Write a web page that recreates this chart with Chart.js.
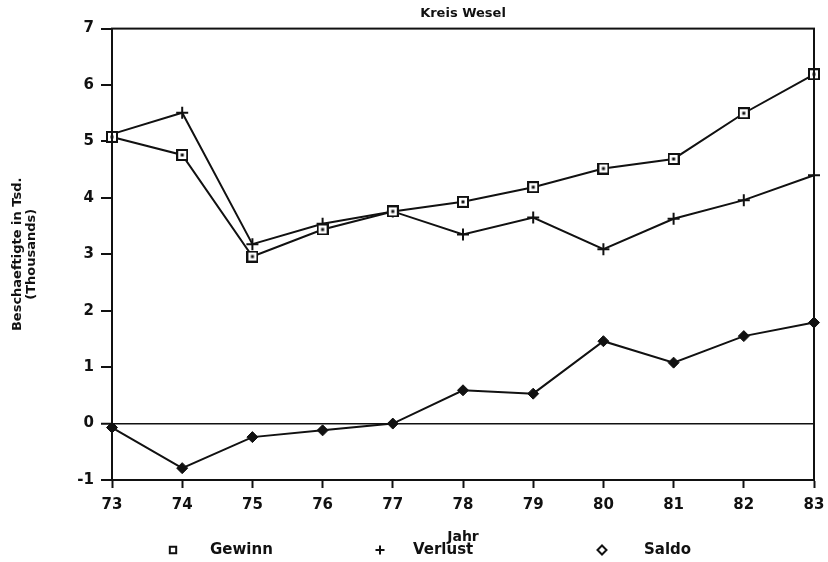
<!DOCTYPE html>
<html>
<head>
<meta charset="utf-8">
<script src="https://cdn.jsdelivr.net/npm/chart.js@4.4.1/dist/chart.umd.min.js"></script>
<style>
  html, body { margin: 0; padding: 0; background: #fff; }
  #wrap { position: relative; width: 828px; height: 562px; }
</style>
</head>
<body>
<div id="wrap"><canvas id="chart"></canvas></div>
<script>
  // ── DATA ──
  const years = ['73','74','75','76','77','78','79','80','81','82','83'];
  const gewinn  = [5.08, 4.76, 2.96, 3.44, 3.76, 3.93, 4.19, 4.52, 4.69, 5.50, 6.19];
  const verlust = [5.13, 5.51, 3.18, 3.54, 3.76, 3.35, 3.65, 3.09, 3.63, 3.96, 4.40];
  const saldo   = [-0.07, -0.79, -0.24, -0.12, 0.00, 0.59, 0.53, 1.46, 1.08, 1.55, 1.79];
  const yMin = -1, yMax = 7;

  const INK = '#111';
  const FONT = "'DejaVu Sans', sans-serif";

  // square-with-dot marker used for Gewinn
  function squareDot(size) {
    const c = document.createElement('canvas');
    c.width = size; c.height = size;
    const g = c.getContext('2d');
    g.fillStyle = '#fff';
    g.fillRect(1, 1, size - 2, size - 2);
    g.strokeStyle = INK; g.lineWidth = 2;
    g.strokeRect(1, 1, size - 2, size - 2);
    g.fillStyle = INK;
    g.fillRect(size / 2 - 1.5, size / 2 - 1.5, 3, 3);
    return c;
  }
  const sqMarker = squareDot(12);

  // box round the plot area (top + right edges)
  const frame = {
    id: 'frame',
    afterDatasetsDraw(chart) {
      const { ctx, chartArea: a } = chart;
      ctx.save();
      ctx.strokeStyle = INK;
      ctx.lineWidth = 2;
      ctx.strokeRect(a.left, a.top, a.right - a.left, a.bottom - a.top);
      ctx.restore();
    }
  };

  // legend row under the axis title
  const legendRow = {
    id: 'legendRow',
    afterDraw(chart) {
      const { ctx } = chart;
      const items = [
        { style: 'rect',    mx: 173, tx: 210 },
        { style: 'cross',   mx: 380, tx: 413 },
        { style: 'rectRot', mx: 602, tx: 644 }
      ];
      const y = 550;
      ctx.save();
      ctx.strokeStyle = INK;
      ctx.fillStyle = '#fff';
      ctx.lineWidth = 2;
      items.forEach((it, i) => {
        Chart.helpers.drawPoint(ctx, { pointStyle: it.style, radius: 4.5, rotation: 0, borderWidth: 2 }, it.mx, y);
      });
      ctx.fillStyle = INK;
      ctx.font = 'bold 15px ' + FONT;
      ctx.textBaseline = 'middle';
      items.forEach((it, i) => ctx.fillText(chart.data.datasets[i].label, it.tx, y));
      ctx.restore();
    }
  };

  const lineStyle = { borderColor: INK, borderWidth: 2, tension: 0, fill: false };

  new Chart(document.getElementById('chart').getContext('2d'), {
    type: 'line',
    data: {
      labels: years,
      datasets: [
        { label: 'Gewinn', data: gewinn, ...lineStyle, pointStyle: sqMarker, pointRadius: 6 },
        { label: 'Verlust', data: verlust, ...lineStyle, pointStyle: 'cross', pointRadius: 6, pointBorderWidth: 2, pointBorderColor: INK },
        { label: 'Saldo', data: saldo, ...lineStyle, pointStyle: 'rectRot', pointRadius: 5.5, pointBackgroundColor: INK, pointBorderColor: INK, pointBorderWidth: 1 }
      ]
    },
    options: {
      responsive: true,
      maintainAspectRatio: false,
      animation: false,
      layout: { padding: { left: 0, right: 14, top: 0, bottom: 0 } },
      plugins: {
        legend: { display: false },
        tooltip: { enabled: false },
        title: {
          display: true, text: 'Kreis Wesel', fullSize: false, color: INK,
          font: { family: FONT, size: 13, weight: 'bold', lineHeight: 1.2 },
          padding: { top: 6, bottom: 7 }
        }
      },
      scales: {
        x: {
          offset: false,
          grid: { drawOnChartArea: false, drawTicks: true, tickLength: 8, tickColor: INK, tickWidth: 2 },
          border: { color: INK, width: 2 },
          ticks: { color: INK, padding: 8, maxRotation: 0, font: { family: FONT, size: 15, weight: 'bold' } },
          title: { display: true, text: 'Jahr', color: INK, padding: { top: 0, bottom: 16 }, font: { family: FONT, size: 14, weight: 'bold' } },
          afterFit(scale) { scale.height = 82; scale.paddingLeft = 0; scale.paddingRight = 0; }
        },
        y: {
          min: yMin, max: yMax,
          grid: {
            drawOnChartArea: true, drawTicks: true, tickLength: 11, tickColor: INK, tickWidth: 2,
            color: c => (c.tick && c.tick.value === 0) ? INK : 'rgba(0,0,0,0)',
            lineWidth: c => (c.tick && c.tick.value === 0) ? 1.5 : 0
          },
          border: { color: INK, width: 2 },
          ticks: { stepSize: 1, color: INK, padding: 7, font: { family: FONT, size: 15, weight: 'bold' } },
          title: {
            display: true, text: ['Beschaeftigte in Tsd.', '(Thousands)'], color: INK,
            padding: { top: 10, bottom: 0 },
            font: { family: FONT, size: 13, weight: 'bold', lineHeight: 1.1 }
          },
          afterFit(scale) { scale.width = 112; }
        }
      }
    },
    plugins: [frame, legendRow]
  });
</script>
</body>
</html>
